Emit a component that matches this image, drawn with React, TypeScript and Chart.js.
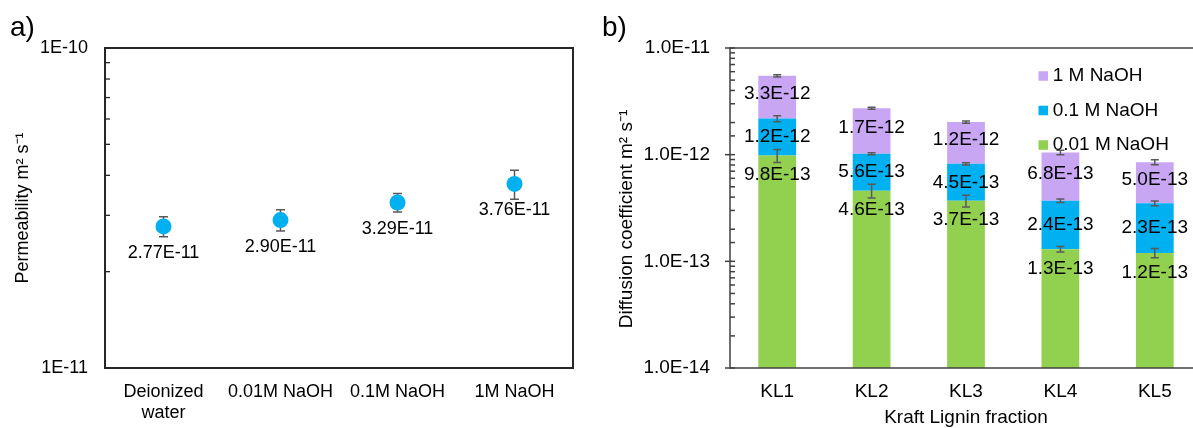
import React, { useEffect, useRef } from 'react';
import { Chart, registerables } from 'chart.js';

Chart.register(...registerables);

const FONT = "'Liberation Sans', Arial, Helvetica, sans-serif";

// ---------- Panel a: permeability ----------
const permCategories: (string | string[])[] = [['Deionized', 'water'], '0.01M NaOH', '0.1M NaOH', '1M NaOH'];
const permValues = [2.77e-11, 2.90e-11, 3.29e-11, 3.76e-11];
const permErrors = [2.0e-12, 2.2e-12, 2.2e-12, 3.9e-12];
const permAxisMin = 1e-11;
const permAxisMax = 1e-10;

// ---------- Panel b: diffusion coefficient ----------
const klCategories = ['KL1', 'KL2', 'KL3', 'KL4', 'KL5'];
const seriesNames = ['0.01 M NaOH', '0.1 M NaOH', '1 M NaOH'];
const naoh001 = [9.8e-13, 4.6e-13, 3.7e-13, 1.3e-13, 1.2e-13];
const naoh01 = [1.2e-12, 5.6e-13, 4.5e-13, 2.4e-13, 2.3e-13];
const naoh1 = [3.3e-12, 1.7e-12, 1.2e-12, 6.8e-13, 5.0e-13];
const err001 = [1.35e-13, 6.8e-14, 4.6e-14, 0.8e-14, 1.2e-14];
const err01 = [1.4e-13, 2.0e-14, 2.0e-14, 1.4e-14, 1.8e-14];
const err1 = [1.2e-13, 6.0e-14, 5.0e-14, 5.0e-14, 4.7e-14];
const diffAxisMin = 1e-14;
const diffAxisMax = 1e-11;

const isDecade = (v: number) => {
  const e = Math.log10(v);
  return Math.abs(e - Math.round(e)) < 1e-6;
};

function drawErrorBar(ctx: CanvasRenderingContext2D, x: number, top: number, bot: number, half: number) {
  ctx.beginPath();
  ctx.moveTo(x, top);
  ctx.lineTo(x, bot);
  ctx.moveTo(x - half, top);
  ctx.lineTo(x + half, top);
  ctx.moveTo(x - half, bot);
  ctx.lineTo(x + half, bot);
  ctx.stroke();
}

const panelAPlugin = {
  id: 'panelA',
  beforeDatasetsDraw(chart: any) {
    const { ctx, scales } = chart;
    const x = scales.x, y = scales.y;
    ctx.save();
    ctx.strokeStyle = '#595959';
    ctx.lineWidth = 1.5;
    permValues.forEach((v, i) => {
      const px = x.getPixelForValue(i);
      drawErrorBar(ctx, px, y.getPixelForValue(v + permErrors[i]), y.getPixelForValue(v - permErrors[i]), 4.5);
    });
    ctx.restore();
  },
  afterDraw(chart: any) {
    const { ctx, chartArea: ca, scales } = chart;
    const x = scales.x, y = scales.y;
    ctx.save();
    // inside minor ticks
    ctx.strokeStyle = '#262626';
    ctx.lineWidth = 1.3;
    y.ticks.forEach((t: any) => {
      const py = y.getPixelForValue(t.value);
      ctx.beginPath();
      ctx.moveTo(ca.left, py);
      ctx.lineTo(ca.left + 5, py);
      ctx.stroke();
    });
    // frame
    ctx.lineWidth = 2;
    ctx.strokeRect(ca.left, ca.top, ca.right - ca.left, ca.bottom - ca.top);
    // data labels
    ctx.fillStyle = '#000';
    ctx.font = `18px ${FONT}`;
    ctx.textAlign = 'center';
    ctx.textBaseline = 'middle';
    permValues.forEach((v, i) => {
      ctx.fillText(v.toExponential(2).toUpperCase(), x.getPixelForValue(i), y.getPixelForValue(v) + 26.5);
    });
    // y title
    ctx.save();
    ctx.translate(23, (ca.top + ca.bottom) / 2);
    ctx.rotate(-Math.PI / 2);
    ctx.fillText('Permeability m² s⁻¹', 0, 0);
    ctx.restore();
    // panel letter
    ctx.font = `28px ${FONT}`;
    ctx.textAlign = 'left';
    ctx.textBaseline = 'alphabetic';
    ctx.fillText('a)', 10, 35.5);
    ctx.restore();
  },
};

const panelBPlugin = {
  id: 'panelB',
  afterDraw(chart: any) {
    const { ctx, chartArea: ca, scales } = chart;
    const x = scales.x, y = scales.y;
    const stacks = [naoh001, naoh01, naoh1];
    const errs = [err001, err01, err1];
    ctx.save();
    // frame (right side lies beyond the visible page)
    ctx.strokeStyle = '#404040';
    ctx.lineWidth = 1.5;
    ctx.strokeRect(ca.left, ca.top, ca.right - ca.left, ca.bottom - ca.top);
    // ticks
    y.ticks.forEach((t: any) => {
      const py = y.getPixelForValue(t.value);
      ctx.beginPath();
      if (isDecade(t.value)) {
        ctx.moveTo(ca.left - 5, py);
        ctx.lineTo(ca.left + 5, py);
      } else {
        ctx.moveTo(ca.left, py);
        ctx.lineTo(ca.left + 5, py);
      }
      ctx.stroke();
    });
    // error bars and labels
    ctx.font = `19px ${FONT}`;
    ctx.textAlign = 'center';
    ctx.textBaseline = 'middle';
    klCategories.forEach((_, i) => {
      const px = x.getPixelForValue(i);
      let cum = 0;
      stacks.forEach((series, s) => {
        const lower = cum;
        cum += series[i];
        const topPx = y.getPixelForValue(cum);
        const botPx = lower === 0 ? ca.bottom : y.getPixelForValue(lower);
        ctx.strokeStyle = '#595959';
        ctx.lineWidth = 1.5;
        drawErrorBar(ctx, px, y.getPixelForValue(cum + errs[s][i]), y.getPixelForValue(cum - errs[s][i]), 4);
        const ly = s === 0 ? topPx + 19.5 : s === 1 ? (topPx + botPx) / 2 : (topPx + botPx) / 2 - 3;
        ctx.fillStyle = '#000';
        ctx.fillText(series[i].toExponential(1).toUpperCase(), px, ly);
      });
    });
    // legend
    const ds = chart.data.datasets;
    const legendY = [145, 110.5, 76];
    ctx.textAlign = 'left';
    ds.forEach((d: any, k: number) => {
      const cy = legendY[k];
      ctx.fillStyle = d.backgroundColor;
      ctx.fillRect(438.5, cy - 4.75, 9.5, 9.5);
      ctx.fillStyle = '#000';
      ctx.fillText(d.label, 452.7, cy);
    });
    // axis titles
    ctx.textAlign = 'center';
    ctx.fillText('Kraft Lignin fraction', (ca.left + ca.right) / 2, 418);
    ctx.save();
    ctx.translate(26.5, 219);
    ctx.rotate(-Math.PI / 2);
    ctx.fillText('Diffusion coefficient m² s⁻¹', 0, 0);
    ctx.restore();
    // panel letter
    ctx.font = `28px ${FONT}`;
    ctx.textAlign = 'left';
    ctx.textBaseline = 'alphabetic';
    ctx.fillText('b)', 2, 36);
    ctx.restore();
  },
};

function configA(): any {
  return {
    type: 'line',
    data: {
      labels: permCategories,
      datasets: [
        {
          label: 'Permeability',
          data: permValues,
          showLine: false,
          pointRadius: 8,
          pointHoverRadius: 8,
          pointBackgroundColor: '#00B0F0',
          pointBorderWidth: 0,
          borderColor: '#00B0F0',
          backgroundColor: '#00B0F0',
        },
      ],
    },
    options: {
      animation: false,
      responsive: false,
      devicePixelRatio: 1,
      events: [],
      layout: { padding: { top: 48, right: 27, left: 0, bottom: 0 } },
      plugins: { legend: { display: false }, tooltip: { enabled: false } },
      scales: {
        x: {
          type: 'category',
          offset: true,
          grid: { display: false, drawTicks: false },
          border: { display: false },
          ticks: { color: '#000', font: { size: 18, family: FONT }, padding: 13, maxRotation: 0, autoSkip: false },
          afterFit: (s: any) => { s.height = 60; },
        },
        y: {
          type: 'logarithmic',
          min: permAxisMin,
          max: permAxisMax,
          grid: { display: false, drawTicks: false },
          border: { display: false },
          ticks: {
            color: '#000',
            font: { size: 18, family: FONT },
            padding: 17,
            autoSkip: false,
            callback: (v: any) => (isDecade(Number(v)) ? Number(v).toExponential(0).toUpperCase() : ''),
          },
          afterFit: (s: any) => { s.width = 105; },
        },
      },
    },
    plugins: [panelAPlugin],
  };
}

function configB(): any {
  return {
    type: 'bar',
    data: {
      labels: klCategories,
      datasets: [
        { label: seriesNames[0], data: naoh001, backgroundColor: '#92D050' },
        { label: seriesNames[1], data: naoh01, backgroundColor: '#00B0F0' },
        { label: seriesNames[2], data: naoh1, backgroundColor: '#C8A6F4' },
      ],
    },
    options: {
      animation: false,
      responsive: false,
      devicePixelRatio: 1,
      events: [],
      layout: { padding: { top: 48, right: 18, left: 0, bottom: 0 } },
      datasets: { bar: { categoryPercentage: 1, barPercentage: 0.4, borderWidth: 0 } },
      plugins: { legend: { display: false }, tooltip: { enabled: false } },
      scales: {
        x: {
          stacked: true,
          grid: { display: false, drawTicks: false },
          border: { display: false },
          ticks: { color: '#000', font: { size: 19, family: FONT }, padding: 12.3, maxRotation: 0, autoSkip: false },
          afterFit: (s: any) => { s.height = 60; },
        },
        y: {
          type: 'logarithmic',
          stacked: true,
          min: diffAxisMin,
          max: diffAxisMax,
          grid: { display: false, drawTicks: false },
          border: { display: false },
          ticks: {
            color: '#000',
            font: { size: 19, family: FONT },
            padding: 20,
            autoSkip: false,
            callback: (v: any) => (isDecade(Number(v)) ? Number(v).toExponential(1).toUpperCase() : ''),
          },
          afterFit: (s: any) => { s.width = 130; },
        },
      },
    },
    plugins: [panelBPlugin],
  };
}

export default function App() {
  const refA = useRef<HTMLCanvasElement>(null);
  const refB = useRef<HTMLCanvasElement>(null);
  useEffect(() => {
    document.body.style.margin = '0';
    const a = new Chart(refA.current as HTMLCanvasElement, configA());
    const b = new Chart(refB.current as HTMLCanvasElement, configB());
    return () => {
      a.destroy();
      b.destroy();
    };
  }, []);
  return (
    <div style={{ position: 'relative', width: 1193, height: 428, overflow: 'hidden', background: '#fff' }}>
      <canvas ref={refA} width={600} height={428} style={{ position: 'absolute', left: 0, top: 0, width: 600, height: 428 }} />
      <canvas ref={refB} width={620} height={428} style={{ position: 'absolute', left: 600, top: 0, width: 620, height: 428 }} />
    </div>
  );
}
